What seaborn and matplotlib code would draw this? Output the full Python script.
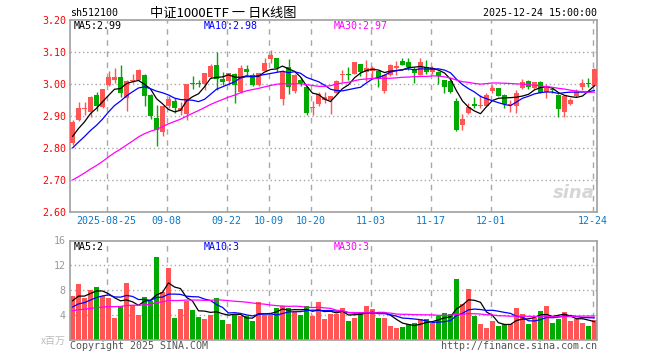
import numpy as np
import pandas as pd
import matplotlib
matplotlib.use("Agg")
import matplotlib.pyplot as plt
import seaborn as sns

# ---------------- data ----------------
open_ = [2.815, 2.888, 2.921, 2.914, 2.966, 2.928, 2.997, 3.012, 3.021, 2.955,
         3.008, 3.014, 3.029, 2.965, 2.895, 2.849, 2.930, 2.947, 2.917, 2.905,
         3.001, 3.003, 3.000, 3.023, 3.059, 3.015, 3.010, 3.032, 2.975, 3.047,
         3.028, 2.996, 3.041, 3.077, 3.080, 2.953, 3.054, 2.978, 3.012, 2.992,
         2.926, 2.937, 2.951, 2.949, 2.973, 3.029, 3.029, 3.032, 3.062, 3.038,
         3.040, 3.040, 2.977, 3.027, 3.049, 3.073, 3.068, 3.046, 3.028, 3.053,
         3.038, 3.038, 3.012, 3.010, 2.947, 2.873, 2.909, 2.938, 2.930, 2.932,
         2.979, 2.987, 2.966, 2.934, 2.930, 2.987, 3.010, 2.987, 3.007, 2.976,
         2.983, 2.966, 2.911, 2.938, 2.961, 2.990, 3.001, 2.995]
high = [2.886, 2.945, 2.945, 2.962, 2.974, 2.985, 3.042, 3.049, 3.059, 3.011,
        3.030, 3.046, 3.031, 2.968, 2.935, 2.932, 2.961, 2.955, 2.945, 3.000,
        3.024, 3.012, 3.035, 3.063, 3.100, 3.038, 3.035, 3.034, 3.059, 3.060,
        3.033, 3.035, 3.080, 3.106, 3.082, 3.044, 3.077, 3.030, 3.022, 2.995,
        2.947, 2.975, 2.975, 2.963, 3.011, 3.044, 3.054, 3.068, 3.063, 3.075,
        3.056, 3.041, 3.030, 3.061, 3.073, 3.080, 3.080, 3.053, 3.080, 3.075,
        3.056, 3.040, 3.014, 3.018, 2.955, 2.907, 2.942, 2.959, 2.966, 2.971,
        2.997, 2.988, 2.970, 2.950, 2.982, 3.016, 3.012, 3.003, 3.010, 3.000,
        2.988, 2.968, 2.963, 2.955, 2.985, 3.015, 3.018, 3.049]
low = [2.809, 2.884, 2.903, 2.896, 2.916, 2.925, 2.994, 3.002, 2.960, 2.917,
       3.002, 3.010, 2.930, 2.890, 2.805, 2.838, 2.925, 2.908, 2.904, 2.886,
       2.983, 2.990, 2.980, 3.018, 2.980, 2.997, 2.997, 2.940, 2.971, 3.028,
       2.995, 2.994, 3.040, 3.066, 3.039, 2.935, 2.968, 2.971, 2.995, 2.903,
       2.904, 2.930, 2.940, 2.906, 2.971, 3.007, 3.012, 3.031, 3.025, 3.010,
       3.020, 2.990, 2.972, 3.024, 3.028, 3.058, 3.044, 3.004, 3.028, 3.030,
       3.032, 3.000, 2.973, 2.972, 2.853, 2.857, 2.906, 2.924, 2.926, 2.930,
       2.971, 2.962, 2.924, 2.911, 2.909, 2.984, 2.984, 2.984, 2.971, 2.955,
       2.973, 2.898, 2.898, 2.935, 2.958, 2.982, 2.992, 2.993]
close = [2.882, 2.924, 2.924, 2.960, 2.931, 2.983, 3.023, 3.021, 2.971, 3.008,
         3.012, 3.043, 2.961, 2.900, 2.855, 2.932, 2.954, 2.924, 2.924, 3.000,
         2.999, 3.000, 3.033, 3.056, 3.015, 3.007, 3.033, 2.998, 3.050, 3.039,
         2.997, 3.034, 3.066, 3.090, 3.049, 3.041, 2.990, 3.028, 3.002, 2.910,
         2.928, 2.968, 2.958, 2.962, 3.009, 3.031, 3.027, 3.068, 3.036, 3.049,
         3.050, 3.015, 3.029, 3.059, 3.056, 3.060, 3.053, 3.035, 3.070, 3.038,
         3.049, 3.025, 2.990, 2.974, 2.856, 2.890, 2.928, 2.930, 2.932, 2.965,
         2.987, 2.963, 2.936, 2.936, 2.972, 3.005, 2.990, 3.005, 2.971, 2.987,
         2.981, 2.921, 2.963, 2.950, 2.976, 3.002, 2.999, 3.047]
volume = [7.15, 9.0, 6.8, 8.0, 8.5, 7.1, 6.8, 3.6, 5.5, 9.2,
          5.6, 4.0, 6.9, 6.3, 13.4, 7.7, 11.6, 3.6, 5.05, 6.3,
          4.8, 3.7, 3.4, 4.0, 6.8, 3.2, 2.6, 4.1, 3.9, 3.9,
          3.1, 6.1, 4.1, 4.1, 5.2, 5.4, 5.2, 4.5, 4.0, 5.5,
          3.9, 6.1, 3.4, 4.2, 4.2, 5.2, 3.1, 3.6, 4.5, 5.4,
          5.05, 3.6, 3.6, 2.3, 2.0, 2.1, 2.5, 2.7, 3.4, 3.4,
          2.8, 3.9, 4.35, 4.2, 9.8, 5.8, 8.2, 3.9, 2.6, 2.0,
          3.1, 2.3, 2.5, 2.6, 5.2, 4.2, 2.5, 3.6, 4.7, 5.5,
          2.7, 3.4, 4.5, 3.1, 3.4, 2.7, 2.3, 3.2]
# closes / volumes before the visible window (estimated from where the MA lines start)
prior_close = [2.61, 2.58, 2.59, 2.60, 2.60, 2.61, 2.62, 2.63, 2.63, 2.64,
               2.65, 2.66, 2.67, 2.68, 2.68, 2.69, 2.70, 2.71, 2.72, 2.73,
               2.74, 2.75, 2.77, 2.77, 2.79, 2.80, 2.82, 2.83, 2.848]
prior_volume = [4.0, 4.5, 3.8, 4.2, 5.0, 4.6, 3.9, 4.4, 4.8, 4.1,
                4.3, 4.7, 4.0, 4.5, 4.9, 4.2, 4.4, 4.6, 4.3, 4.8,
                4.0, 4.6, 3.9, 4.5, 4.5, 5.2, 6.8, 5.9, 6.45]
tick_index = [6, 16, 26, 33, 40, 50, 60, 70, 87]
tick_labels = ["2025-08-25", "09-08", "09-22", "10-09", "10-20",
               "11-03", "11-17", "12-01", "12-24"]
price_ticks = [2.60, 2.70, 2.80, 2.90, 3.00, 3.10, 3.20]
vol_ticks = [4, 8, 12, 16]

# ---------------- style ----------------
sns.set_theme(style="white")
plt.rcParams['font.family'] = ['DejaVu Sans Mono', 'Noto Sans CJK SC']

RED = '#ff5555'
GREEN = '#00aa00'
GRID = '#a8a8a8'
SPINE = '#a0a0a0'
W, H = 660, 360

fig = plt.figure(figsize=(6.6, 3.6), dpi=100)
fig.patch.set_facecolor('white')
ax = fig.add_axes([70 / W, 1 - 212 / H, 527 / W, 192 / H])
axv = fig.add_axes([70 / W, 1 - 340 / H, 527 / W, 99.5 / H])

o = np.array(open_); h = np.array(high); l = np.array(low); c = np.array(close)
v = np.array(volume)
n = len(c)
x = np.arange(n)
up = c >= o
cols = np.where(up, RED, GREEN)

c_all = pd.Series(prior_close + close)
v_all = pd.Series(prior_volume + volume)
k0 = len(prior_close)
ma = {k: c_all.rolling(k).mean().values[k0:] for k in (5, 10, 30)}
vma = {k: v_all.rolling(k).mean().values[len(prior_volume):] for k in (5, 10, 30)}
ma_col = {5: 'black', 10: '#0000ff', 30: '#ff00ff'}

xlim = (-0.4167, n - 1 + 0.4167)
grid_x = [i - 0.3 for i in tick_index]

# ---- price panel ----
for gx in grid_x:
    ax.axvline(gx, color=GRID, lw=1, ls=(0, (4, 4)), zorder=0)
for py in price_ticks[1:-1]:
    ax.axhline(py, color=GRID, lw=1, ls=(0, (1, 2)), zorder=0)

ax.vlines(x, l, h, colors=cols, lw=1, zorder=2)
body = np.maximum(np.abs(c - o), 0.003)
ax.bar(x, body, bottom=np.minimum(o, c), width=0.83, color=cols, lw=0, zorder=3)

for k in (5, 10, 30):
    sns.lineplot(x=x, y=ma[k], ax=ax, color=ma_col[k], lw=0.9, zorder=4)

ax.set_xlim(*xlim)
ax.set_ylim(price_ticks[0], price_ticks[-1])
ax.set_yticks(price_ticks)
ax.set_yticklabels([f"{t:.2f}" for t in price_ticks], color='#ff0000', fontsize=7.2)
ax.set_xticks(grid_x)
ax.set_xticklabels(tick_labels, color='#0a78c8', fontsize=7.2)
ax.tick_params(axis='both', length=0, pad=3)
ax.set_xlabel(''); ax.set_ylabel('')
for s in ax.spines.values():
    s.set_color(SPINE); s.set_linewidth(1.2)

ax.text(4 / 527, 1 - 6 / 192, f"MA5:{ma[5][-1]:.2f}", transform=ax.transAxes,
        color='black', fontsize=7.2, va='center', ha='left')
ax.text(134 / 527, 1 - 6 / 192, f"MA10:{ma[10][-1]:.2f}", transform=ax.transAxes,
        color='#0000ff', fontsize=7.2, va='center', ha='left')
ax.text(264 / 527, 1 - 6 / 192, f"MA30:{ma[30][-1]:.2f}", transform=ax.transAxes,
        color='#ff00ff', fontsize=7.2, va='center', ha='left')
ax.text(0.995, 0.05, "sina", transform=ax.transAxes, color='#d6d6d6',
        fontsize=13, fontstyle='italic', fontweight='bold', ha='right', va='bottom',
        family='DejaVu Sans', zorder=1)

# ---- volume panel ----
for gx in grid_x:
    axv.axvline(gx, color=GRID, lw=1, ls=(0, (4, 4)), zorder=0)
for vy in vol_ticks[:-1]:
    axv.axhline(vy, color=GRID, lw=1, ls=(0, (1, 2)), zorder=0)
axv.bar(x, v, width=0.83, color=cols, lw=0, zorder=2)
for k in (5, 10, 30):
    sns.lineplot(x=x, y=vma[k], ax=axv, color=ma_col[k], lw=0.9, zorder=4)
axv.set_xlim(*xlim)
axv.set_ylim(0, 16)
axv.set_yticks(vol_ticks)
axv.set_yticklabels([str(t) for t in vol_ticks], color='#999999', fontsize=7.2)
axv.set_xticks([])
axv.tick_params(axis='both', length=0, pad=3)
axv.set_xlabel(''); axv.set_ylabel('')
for s in axv.spines.values():
    s.set_color(SPINE); s.set_linewidth(1.2)
axv.text(4 / 527, 1 - 6 / 99.5, f"MA5:{int(vma[5][-1])}", transform=axv.transAxes,
         color='black', fontsize=7.2, va='center', ha='left')
axv.text(134 / 527, 1 - 6 / 99.5, f"MA10:{int(vma[10][-1])}", transform=axv.transAxes,
         color='#0000ff', fontsize=7.2, va='center', ha='left')
axv.text(264 / 527, 1 - 6 / 99.5, f"MA30:{int(vma[30][-1])}", transform=axv.transAxes,
         color='#ff00ff', fontsize=7.2, va='center', ha='left')

# ---- header / footer text ----
def ftext(px, py, s, **kw):
    fig.text(px / W, 1 - py / H, s, **kw)

ftext(70, 13, "sh512100", color='black', fontsize=7.2, va='center', ha='left')
ftext(223, 13, "中证1000ETF 一 日K线图", color='black', fontsize=9.5, va='center',
      ha='center', family=['Noto Sans CJK SC', 'DejaVu Sans'])
ftext(597, 13, "2025-12-24 15:00:00", color='black', fontsize=7.2, va='center', ha='right')
ftext(66, 341, "x百万", color='#bbbbbb', fontsize=7.2, va='center', ha='right',
      family=['Noto Sans CJK SC', 'DejaVu Sans'])
ftext(70, 346, "Copyright 2025 SINA.COM", color='#555555', fontsize=7.2, va='center', ha='left')
ftext(597, 346, "http://finance.sina.com.cn", color='#555555', fontsize=7.2,
      va='center', ha='right')

fig.savefig("out.png", dpi=100, facecolor='white')
